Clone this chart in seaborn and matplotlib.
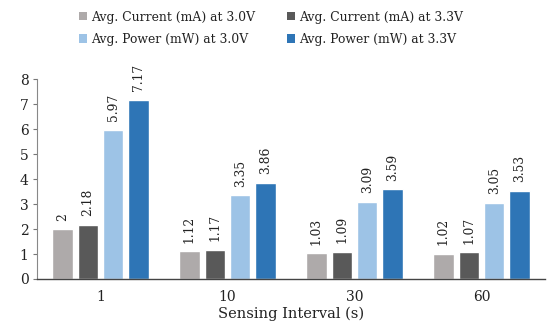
import matplotlib
matplotlib.use("Agg")
import matplotlib.pyplot as plt
import seaborn as sns
import pandas as pd
from matplotlib.patches import Patch

intervals = ["1", "10", "30", "60"]
series = [
    "Avg. Current (mA) at 3.0V",
    "Avg. Current (mA) at 3.3V",
    "Avg. Power (mW) at 3.0V",
    "Avg. Power (mW) at 3.3V",
]
current_30 = [2, 1.12, 1.03, 1.02]
current_33 = [2.18, 1.17, 1.09, 1.07]
power_30 = [5.97, 3.35, 3.09, 3.05]
power_33 = [7.17, 3.86, 3.59, 3.53]
y_ticks = [0, 1, 2, 3, 4, 5, 6, 7, 8]

colors = ["#AEAAAA", "#595959", "#9DC3E6", "#2E75B6"]

rows = []
for name, vals in zip(series, [current_30, current_33, power_30, power_33]):
    for cat, v in zip(intervals, vals):
        rows.append({"Interval": cat, "Series": name, "Value": v})
df = pd.DataFrame(rows)

sns.set_theme(style="white")
plt.rcParams["font.family"] = ["DejaVu Serif"]

fig = plt.figure(figsize=(5.5, 3.28), dpi=100)
ax = fig.add_axes([0.0673, 0.1494, 0.9237, 0.6096])

sns.barplot(
    data=df, x="Interval", y="Value", hue="Series",
    order=intervals, hue_order=series, palette=colors,
    width=0.8, gap=0.2, saturation=1, ax=ax, legend=False,
)

for cont, name in zip(ax.containers, series):
    vals = df[df["Series"] == name]["Value"].tolist()
    ax.bar_label(cont, labels=[f"{v:g}" for v in vals], rotation=90,
                 padding=6, fontsize=8.8, color="#222222")

ax.set_ylim(0, 8)
ax.set_xlim(-0.5, 3.5)
ax.set_yticks(y_ticks)
ax.set_xlabel("Sensing Interval (s)", fontsize=10.5, color="#222222", labelpad=2)
ax.set_ylabel("")
ax.tick_params(axis="y", left=True, length=3, width=0.8, color="#777777",
               labelsize=10, labelcolor="#222222", pad=3)
ax.tick_params(axis="x", bottom=False, labelsize=10, labelcolor="#222222", pad=2)
sns.despine(ax=ax, top=True, right=True)
ax.spines["left"].set_color("#888888")
ax.spines["left"].set_linewidth(0.8)
ax.spines["bottom"].set_color("#444444")
ax.spines["bottom"].set_linewidth(1.0)

# legend filled row by row: reorder for matplotlib's column-first layout
order = [0, 2, 1, 3]
handles = [Patch(facecolor=colors[i], edgecolor="none") for i in order]
labels = [series[i] for i in order]
fig.legend(handles, labels, loc="upper left", bbox_to_anchor=(0.128, 0.994),
           ncol=2, frameon=False, fontsize=8.9, handlelength=0.65,
           handleheight=0.65, handletextpad=0.3, columnspacing=2.6,
           labelspacing=0.75, labelcolor="#222222", borderaxespad=0.3)

fig.savefig("out.png", dpi=100)
